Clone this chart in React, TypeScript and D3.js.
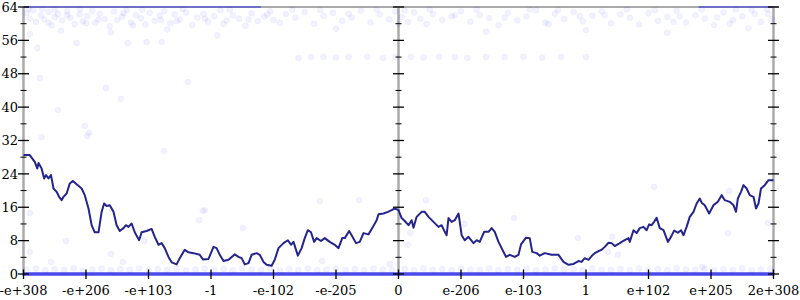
import React from 'react';
import * as d3 from 'd3';

const xTickLabels = ["-e+308", "-e+206", "-e+103", "-1", "-e-102", "-e-205", "0", "e-206", "e-103", "1", "e+102", "e+205", "2e+308"];
const yMajorTicks = [0, 8, 16, 24, 32, 40, 48, 56, 64];
const yMinorTicks = [4, 12, 20, 28, 36, 44, 52, 60];
const verticalAxesAt = [0, 6, 12];

// Smoothed line (x in tick-index units, y in value units)
const lineX = [0.00, 0.10, 0.18, 0.22, 0.24, 0.29, 0.33, 0.36, 0.40, 0.44, 0.48, 0.53, 0.57, 0.61, 0.64, 0.69, 0.74, 0.79, 0.85, 0.93, 0.98, 1.04, 1.09, 1.14, 1.20, 1.25, 1.29, 1.33, 1.38, 1.44, 1.49, 1.54, 1.60, 1.64, 1.68, 1.73, 1.78, 1.85, 1.89, 1.97, 2.05, 2.10, 2.16, 2.21, 2.26, 2.32, 2.37, 2.45, 2.50, 2.58, 2.64, 2.72, 2.82, 2.87, 2.96, 3.04, 3.09, 3.14, 3.20, 3.28, 3.38, 3.44, 3.49, 3.54, 3.60, 3.65, 3.73, 3.78, 3.84, 3.89, 3.97, 4.02, 4.08, 4.16, 4.23, 4.28, 4.32, 4.39, 4.45, 4.50, 4.55, 4.60, 4.65, 4.69, 4.76, 4.82, 4.90, 4.98, 5.04, 5.10, 5.14, 5.21, 5.25, 5.32, 5.38, 5.44, 5.52, 5.58, 5.65, 5.68, 5.76, 5.83, 5.89, 5.94, 6.00, 6.05, 6.10, 6.16, 6.21, 6.24, 6.29, 6.37, 6.42, 6.48, 6.56, 6.64, 6.69, 6.74, 6.77, 6.80, 6.85, 6.90, 6.96, 6.98, 7.01, 7.06, 7.12, 7.20, 7.25, 7.30, 7.37, 7.44, 7.49, 7.54, 7.60, 7.65, 7.72, 7.78, 7.86, 7.92, 7.96, 8.04, 8.10, 8.14, 8.21, 8.26, 8.34, 8.45, 8.56, 8.64, 8.72, 8.80, 8.88, 8.93, 8.98, 9.04, 9.09, 9.14, 9.20, 9.25, 9.30, 9.36, 9.41, 9.46, 9.52, 9.57, 9.62, 9.68, 9.70, 9.76, 9.81, 9.86, 9.92, 9.97, 10.01, 10.05, 10.09, 10.13, 10.18, 10.24, 10.31, 10.36, 10.41, 10.47, 10.52, 10.56, 10.61, 10.66, 10.72, 10.77, 10.82, 10.85, 10.90, 10.97, 11.04, 11.11, 11.17, 11.22, 11.30, 11.36, 11.40, 11.43, 11.48, 11.52, 11.57, 11.62, 11.68, 11.72, 11.76, 11.80, 11.86, 11.92, 12.00];
const lineY = [28.5, 28.5, 26.9, 25.3, 26.6, 25.3, 22.9, 23.7, 22.9, 23.7, 20.5, 19.7, 18.5, 17.7, 18.5, 19.3, 21.7, 22.3, 21.5, 20.5, 18.9, 15.7, 11.7, 10.0, 10.0, 14.9, 16.9, 16.3, 16.5, 14.9, 11.7, 10.3, 11.0, 11.7, 11.3, 12.1, 10.0, 8.1, 10.0, 10.3, 10.8, 8.9, 7.0, 7.4, 6.2, 4.1, 2.8, 2.3, 3.8, 5.8, 5.2, 5.0, 4.6, 3.5, 3.6, 6.5, 6.2, 4.6, 3.1, 3.4, 4.7, 4.1, 3.8, 2.3, 2.6, 4.6, 5.0, 4.6, 2.9, 2.2, 2.0, 3.4, 6.2, 7.4, 8.1, 7.0, 7.7, 4.4, 6.2, 8.6, 10.5, 10.0, 7.7, 8.6, 7.9, 8.6, 7.7, 7.0, 6.2, 8.6, 8.6, 10.3, 9.3, 7.4, 7.7, 9.8, 9.5, 11.0, 12.9, 14.3, 14.5, 14.9, 15.3, 15.7, 15.3, 13.4, 12.7, 11.7, 12.9, 11.1, 13.7, 14.9, 14.9, 13.7, 12.5, 11.3, 11.7, 10.1, 9.3, 13.4, 12.5, 12.9, 14.5, 12.5, 9.3, 8.1, 8.9, 7.4, 8.1, 7.7, 10.1, 10.1, 11.0, 10.1, 7.7, 6.2, 4.1, 4.6, 4.1, 4.6, 7.1, 8.7, 8.6, 5.3, 5.0, 4.4, 5.0, 4.6, 4.6, 2.9, 2.2, 2.4, 3.1, 2.9, 3.8, 3.4, 4.3, 5.0, 5.5, 5.8, 6.5, 7.5, 7.4, 6.7, 7.2, 7.7, 8.1, 8.6, 7.7, 10.5, 9.8, 11.0, 11.3, 10.5, 11.9, 11.7, 12.5, 13.5, 11.0, 10.5, 7.7, 8.9, 10.4, 9.9, 10.5, 9.3, 11.3, 13.7, 14.9, 16.9, 18.1, 17.1, 16.5, 14.5, 16.5, 17.3, 18.9, 17.7, 17.3, 16.5, 14.9, 18.1, 19.7, 21.3, 20.5, 18.9, 18.5, 15.7, 16.9, 20.5, 21.3, 22.5, 22.5];

// Faint scatter samples
const topBandPoints: [number, number][] = [
  [0.05, 62.5], [0.1, 61.2], [0.15, 63.2], [0.2, 60.4], [0.28, 62.0], [0.33, 61.0], [0.4, 62.8], [0.45, 59.6], [0.5, 61.6], [0.55, 62.3],
  [0.62, 60.8], [0.7, 63.0], [0.75, 61.4], [0.82, 59.9], [0.9, 62.2], [0.95, 60.6], [1.02, 61.8], [1.1, 63.1], [1.15, 60.2], [1.22, 62.4],
  [1.3, 61.1], [1.38, 59.4], [1.45, 62.9], [1.5, 60.9], [1.58, 61.7], [1.65, 63.3], [1.72, 60.3], [1.8, 62.1], [1.88, 61.3], [1.95, 59.8],
  [2.02, 62.6], [2.1, 60.7], [2.18, 61.9], [2.25, 63.0], [2.35, 60.1], [2.42, 62.2], [2.5, 61.0], [2.6, 62.7], [2.7, 59.7], [2.78, 61.5],
  [2.88, 62.4], [2.95, 60.5], [3.05, 61.8], [3.15, 63.2], [3.25, 60.8], [3.35, 62.0], [3.45, 61.2], [3.55, 59.5], [3.65, 62.5], [3.75, 60.6],
  [3.85, 61.7], [3.95, 63.0], [4.1, 60.2], [4.2, 62.3], [4.35, 61.4], [4.5, 62.8], [4.65, 60.0], [4.8, 61.9], [4.95, 62.6], [5.1, 60.7],
  [5.25, 61.5], [5.4, 63.1], [5.55, 60.3], [5.7, 62.2], [5.85, 61.0], [5.95, 62.9], [6.05, 61.6], [6.15, 60.4], [6.25, 62.7], [6.35, 61.2],
  [6.45, 59.9], [6.55, 62.3], [6.7, 60.9], [6.85, 61.8], [7.0, 63.0], [7.15, 60.5], [7.3, 62.1], [7.45, 61.3], [7.6, 59.6], [7.75, 62.6],
  [7.9, 60.8], [8.05, 61.7], [8.2, 63.2], [8.35, 60.2], [8.5, 62.4], [8.65, 61.1], [8.8, 62.8], [8.95, 60.6], [9.1, 61.9], [9.25, 63.0],
  [9.4, 60.1], [9.55, 62.2], [9.7, 61.4], [9.85, 59.8], [10.0, 62.5], [10.15, 60.7], [10.3, 61.6], [10.45, 63.1], [10.6, 60.3], [10.75, 62.0],
  [10.9, 61.2], [11.05, 59.7], [11.2, 62.7], [11.35, 60.9], [11.5, 61.8], [11.65, 63.2], [11.8, 60.4], [11.92, 62.3], [11.98, 61.0],
  [0.1, 57.5], [0.6, 58.3], [1.4, 57.9], [2.3, 58.6], [3.1, 57.2], [5.0, 58.8], [7.4, 58.1], [9.0, 58.4], [10.3, 57.8], [11.6, 58.9],
  [0.22, 54.2], [0.85, 55.4], [1.67, 55.4], [1.97, 55.6], [2.21, 55.6],
  [0.08, 63.6], [0.3, 63.5], [0.5, 63.4], [0.7, 62.0], [0.9, 63.5], [1.2, 61.0], [1.6, 62.5], [1.9, 63.4], [2.2, 60.9], [2.55, 63.5],
  [2.9, 61.2], [3.3, 63.4], [3.6, 61.0], [3.9, 62.2], [4.3, 63.4], [4.75, 63.3], [5.2, 62.4], [5.65, 63.4], [6.1, 63.2], [6.5, 63.4],
  [6.9, 62.0], [7.25, 63.4], [7.7, 61.4], [8.1, 63.4], [8.55, 63.3], [8.9, 61.8], [9.3, 62.1], [9.65, 63.4], [10.1, 63.3], [10.5, 61.8],
  [10.85, 63.4], [11.1, 61.5], [11.4, 63.4], [11.7, 62.3], [11.9, 63.5], [0.4, 60.2], [1.0, 60.1], [1.75, 59.6], [2.45, 60.6], [3.2, 59.9],
  [4.0, 60.9], [6.0, 60.0], [8.4, 59.9], [10.4, 60.4], [11.3, 60.0]
];
const rowPoints: [number, number][] = [
  [4.4, 51.8], [4.6, 52], [4.8, 52], [5.0, 51.9], [5.2, 52], [5.5, 52.1], [5.75, 51.8], [5.95, 52], [6.2, 52], [6.4, 51.9],
  [6.65, 52.1], [6.9, 52], [7.1, 51.8], [7.4, 52], [7.7, 52], [8.0, 52.1], [8.3, 51.9], [8.6, 52], [9.0, 52]
];
const sparsePoints: [number, number][] = [
  [0.26, 47], [1.32, 44.6], [2.63, 46], [1.56, 42], [0.55, 39.3], [0.98, 35.5], [0.29, 32.8], [1.05, 33.8], [1.02, 33.1],
  [2.25, 29.5], [2.87, 15.1], [2.81, 12.9], [0.1, 14.6], [0.68, 7.9], [0.1, 5.3], [0.44, 2.9], [1.40, 4.8], [1.59, 2.9], [1.93, 7.9],
  [4.74, 17.5], [5.37, 17.7], [3.51, 11.0], [4.78, 3.1], [5.86, 2.4], [2.9, 15.3], [6.44, 17.7], [7.85, 13.4], [6.15, 7.0],
  [7.06, 12.0], [8.87, 8.6], [10.09, 20.9], [9.42, 8.9], [9.35, 5.3], [9.51, 4.6], [11.29, 19.9], [11.27, 9.8], [11.91, 12.2],
  [10.86, 1.7], [6.19, 9.8]
];
const bottomBandPoints: [number, number][] = [
  [0.05, 1.0], [0.2, 1.3], [0.35, 0.9], [0.5, 1.2], [0.65, 1.0], [0.8, 1.4], [0.95, 0.8], [1.1, 1.1], [1.25, 1.3], [1.4, 0.9],
  [1.55, 1.2], [1.7, 1.0], [1.85, 1.4], [2.0, 0.9], [2.15, 1.2], [2.3, 1.0], [2.45, 1.3], [2.6, 0.8], [2.75, 1.1], [2.9, 1.3],
  [3.05, 1.0], [3.2, 1.2], [3.35, 0.9], [3.5, 1.4], [3.65, 1.1], [3.8, 1.0], [3.95, 1.3], [4.1, 0.9], [4.25, 1.2], [4.4, 1.0],
  [4.55, 1.3], [4.7, 0.9], [4.85, 1.1], [5.0, 1.4], [5.15, 1.0], [5.3, 1.2], [5.45, 0.9], [5.6, 1.3], [5.75, 1.1], [5.9, 1.0],
  [6.1, 1.2], [6.25, 0.9], [6.4, 1.3], [6.55, 1.0], [6.7, 1.2], [6.85, 0.9], [7.0, 1.4], [7.15, 1.1], [7.3, 1.0], [7.45, 1.3],
  [7.6, 0.9], [7.75, 1.2], [7.9, 1.0], [8.05, 1.3], [8.2, 0.9], [8.35, 1.1], [8.5, 1.4], [8.65, 1.0], [8.8, 1.2], [8.95, 0.9],
  [9.1, 1.3], [9.25, 1.1], [9.4, 1.0], [9.55, 1.2], [9.7, 0.9], [9.85, 1.3], [10.0, 1.0], [10.15, 1.2], [10.3, 0.9], [10.45, 1.4],
  [10.6, 1.1], [10.75, 1.0], [10.9, 1.3], [11.05, 0.9], [11.2, 1.2], [11.35, 1.0], [11.5, 1.3], [11.65, 0.9], [11.8, 1.1], [11.95, 1.2]
];
// Ranges along x where samples pile up exactly at the domain edges (value, from, to)
const denseBands: [number, number, number][] = [
  [0, 0, 12],
  [64, 0, 3.8],
  [64, 10.8, 12]
];

export default function App() {
  const W = 800, H = 300;
  const x = d3.scaleLinear().domain([0, 12]).range([23.5, 773.5]);
  const y = d3.scaleLinear().domain([0, 64]).range([274, 7]);
  const lineData = lineX.map((u, i) => [u, lineY[i]] as [number, number]);
  const linePath = d3.line<[number, number]>().x(d => x(d[0])).y(d => y(d[1]))(lineData) || '';
  const allPoints = [...topBandPoints, ...rowPoints, ...sparsePoints, ...bottomBandPoints];
  const font = "'DejaVu Serif', serif";

  return (
    <svg width={W} height={H} style={{ position: 'absolute', left: 0, top: 0, background: '#fff' }} fontFamily={font}>
      <line x1={x(0)} x2={x(12) + 5} y1={y(64)} y2={y(64)} stroke="#aaa" strokeWidth={2} />
      {verticalAxesAt.map(a => (
        <line key={'ax' + a} x1={x(a)} x2={x(a)} y1={y(64)} y2={y(0) + 2} stroke="#aaa" strokeWidth={2.5} />
      ))}
      {allPoints.map((p, i) => (
        <circle key={'p' + i} cx={x(p[0])} cy={y(p[1])} r={3} fill="#0000ff" fillOpacity={0.055} stroke="#0000ff" strokeOpacity={0.03} strokeWidth={1} />
      ))}
      {denseBands.map((b, i) => (
        <line key={'b' + i} x1={x(b[1])} x2={x(b[2])} y1={y(b[0])} y2={y(b[0])} stroke="#2a2ae6" strokeOpacity={b[0] === 0 ? 0.85 : 0.45} strokeWidth={b[0] === 0 ? 3.5 : 2} />
      ))}
      {verticalAxesAt.map(a => (
        <g key={'t' + a}>
          {yMajorTicks.map(t => (
            <line key={'M' + t} x1={x(a) - 5.5} x2={x(a) + 5.5} y1={y(t)} y2={y(t)} stroke="#000" strokeWidth={1.3} />
          ))}
          {yMinorTicks.map(t => (
            <line key={'m' + t} x1={x(a) - 3} x2={x(a) + 3} y1={y(t)} y2={y(t)} stroke="#000" strokeWidth={1} />
          ))}
        </g>
      ))}
      {yMajorTicks.map(t => (
        <text key={'yl' + t} x={18} y={y(t)} dy="0.36em" textAnchor="end" fontSize={13} fill="#000">{t}</text>
      ))}
      {xTickLabels.map((lab, i) => (
        <g key={'x' + i}>
          <line x1={x(i)} x2={x(i)} y1={y(0) - 4.5} y2={y(0) + 5} stroke="#000" strokeWidth={1.3} />
          <text x={x(i)} y={294.5} textAnchor="middle" fontSize={13} fill="#000">{lab}</text>
        </g>
      ))}
      <path d={linePath} fill="none" stroke="#24248f" strokeWidth={2} strokeLinejoin="round" />
    </svg>
  );
}
